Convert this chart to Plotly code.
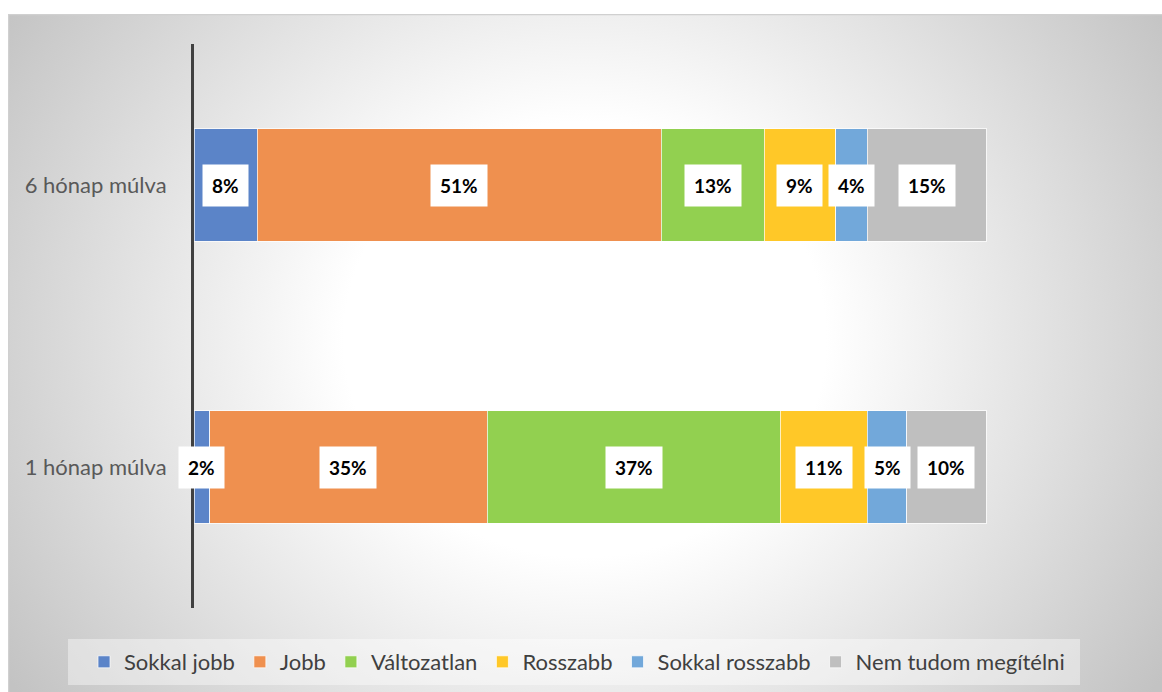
import base64
import plotly.graph_objects as go

# ---- data ----
categories = ["1 hónap múlva", "6 hónap múlva"]
series_names = ["Sokkal jobb", "Jobb", "Változatlan", "Rosszabb", "Sokkal rosszabb", "Nem tudom megítélni"]
values_1_honap = [2, 35, 37, 11, 5, 10]
values_6_honap = [8, 51, 13, 9, 4, 15]
colors = ["#5B84C8", "#EF904F", "#92D050", "#FFC828", "#72A8DA", "#BFBFBF"]

W, H = 1162, 692
L, R, T, B = 194, 20, 44, 84
pw, ph = W - L - R, H - T - B
bar_full_px = 792                       # pixel length of a 100 % bar
x_max = 100 * pw / bar_full_px          # axis range so that 100 % ends at x=986px


def px_x(p):
    return (p - L) / pw


def px_y(p):
    return (T + ph - p) / ph


fig = go.Figure()
for i, name in enumerate(series_names):
    fig.add_trace(go.Bar(
        y=categories,
        x=[values_1_honap[i], values_6_honap[i]],
        name=name,
        orientation="h",
        marker=dict(color=colors[i], line=dict(color="rgba(255,255,255,0.7)", width=1)),
        hoverinfo="x+name",
    ))

# labels in white boxes, centred on each segment
for cat, vals in zip(categories, [values_1_honap, values_6_honap]):
    start = 0
    for v in vals:
        fig.add_annotation(
            x=start + v / 2, y=cat, xref="x", yref="y",
            text=f"<b>{v}%</b>", showarrow=False,
            font=dict(family="Lato", size=19, color="#000000"),
            bgcolor="#FFFFFF", borderpad=9,
        )
        start += v

# radial gradient background (svg data uri)
gw, gh = W - 8, H - 14
gcx, gcy, grx, gry = gw / 2, 0.48 * gh, 689, 621
svg = f'''<svg xmlns="http://www.w3.org/2000/svg" width="{gw}" height="{gh}">
<defs><radialGradient id="g" gradientUnits="userSpaceOnUse" cx="{gcx}" cy="{gcy}" r="{grx}"
 gradientTransform="translate({gcx},{gcy}) scale(1,{gry / grx:.4f}) translate({-gcx},{-gcy})">
<stop offset="0" stop-color="#ffffff"/>
<stop offset="0.35" stop-color="#ffffff"/>
<stop offset="1" stop-color="#c3c3c3"/>
</radialGradient></defs>
<rect x="0" y="0" width="{gw}" height="{gh}" fill="url(#g)"/>
<rect x="0.5" y="0.5" width="{gw+5}" height="{gh+5}" fill="none" stroke="#d0d0d0" stroke-width="1.5"/>
</svg>'''
src = "data:image/svg+xml;base64," + base64.b64encode(svg.encode()).decode()
fig.add_layout_image(dict(
    source=src, xref="paper", yref="paper",
    x=px_x(8), y=px_y(14),
    sizex=gw / pw, sizey=gh / ph,
    xanchor="left", yanchor="top", sizing="stretch", layer="below",
))

# legend background box
fig.add_shape(type="rect", xref="paper", yref="paper",
              x0=px_x(68), x1=px_x(1080), y0=px_y(685), y1=px_y(639),
              fillcolor="rgba(255,255,255,0.4)", line=dict(width=0), layer="below")

fig.update_layout(
    width=W, height=H, autosize=False,
    margin=dict(l=L, r=R, t=T, b=B, autoexpand=False),
    paper_bgcolor="#FFFFFF", plot_bgcolor="rgba(0,0,0,0)",
    barmode="stack", bargap=0.6,
    font=dict(family="Lato", size=18, color="#595959"),
    showlegend=True,
    legend=dict(
        orientation="h", traceorder="normal",
        xref="paper", yref="paper",
        x=px_x(84), xanchor="left",
        y=px_y(662), yanchor="middle",
        bgcolor="rgba(0,0,0,0)",
        font=dict(family="Lato", size=22, color="#404040"),
        itemwidth=30,
    ),
    xaxis=dict(range=[0, x_max], showticklabels=False, showgrid=False, zeroline=False,
               showline=False, fixedrange=True),
    yaxis=dict(showline=True, linecolor="#404040", linewidth=3, showgrid=False,
               ticks="", ticklabelstandoff=20, tickfont=dict(size=22, color="#595959"),
               categoryorder="array", categoryarray=categories),
)

fig.write_html("out.html", config={"displayModeBar": False},
               post_script="document.body.style.margin='0';")
